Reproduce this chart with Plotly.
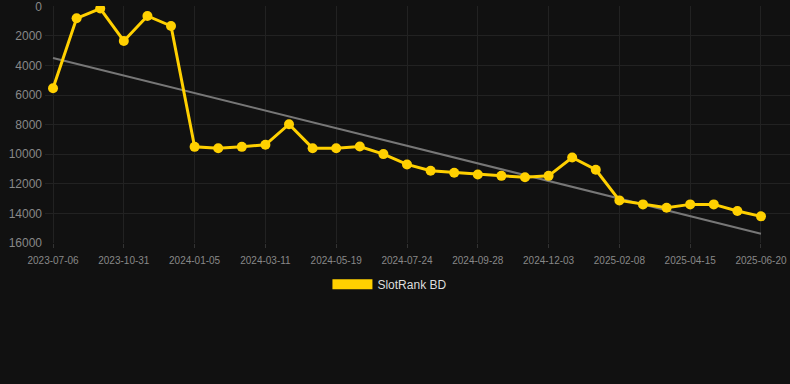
import plotly.graph_objects as go

dates = [
    "2023-07-06", "2023-08-14", "2023-09-22", "2023-10-31", "2023-11-22", "2023-12-14",
    "2024-01-05", "2024-01-27", "2024-02-18", "2024-03-11", "2024-04-03", "2024-04-26",
    "2024-05-19", "2024-06-10", "2024-07-02", "2024-07-24", "2024-08-15", "2024-09-06",
    "2024-09-28", "2024-10-20", "2024-11-11", "2024-12-03", "2024-12-25", "2025-01-17",
    "2025-02-08", "2025-03-02", "2025-03-24", "2025-04-15", "2025-05-07", "2025-05-29",
    "2025-06-20",
]
rank = [
    5540, 810, 150, 2340, 655, 1330,
    9500, 9590, 9500, 9360, 7970, 9590,
    9590, 9480, 9990, 10690, 11120, 11250,
    11370, 11460, 11550, 11460, 10220, 11050,
    13120, 13390, 13620, 13390, 13390, 13840,
    14200,
]
tick_dates = dates[::3]
y_ticks = [0, 2000, 4000, 6000, 8000, 10000, 12000, 14000, 16000]
trend_x = [dates[0], dates[-1]]
trend_y = [3490, 15370]
series_name = "SlotRank BD"

GOLD = "#FFD000"

fig = go.Figure()
fig.add_trace(go.Scatter(
    x=trend_x, y=trend_y, mode="lines",
    line=dict(color="#777777", width=2),
    showlegend=False, hoverinfo="skip",
))
fig.add_trace(go.Scatter(
    x=dates, y=rank, mode="lines+markers",
    line=dict(color=GOLD, width=3),
    marker=dict(color=GOLD, size=10),
    showlegend=False, name=series_name,
))
# legend entry
fig.add_trace(go.Scatter(
    x=[None], y=[None], mode="lines",
    line=dict(color=GOLD, width=12),
    name=series_name, showlegend=True,
))

fig.update_layout(
    width=790, height=384,
    paper_bgcolor="#111111", plot_bgcolor="#111111",
    margin=dict(l=45, r=0, t=6, b=141),
    font=dict(family="Liberation Sans, Arial, sans-serif", color="#888888"),
    showlegend=True,
    legend=dict(
        orientation="h", x=0.463, xanchor="center",
        y=-0.113, yanchor="top",
        font=dict(size=12, color="#dddddd"), itemwidth=40,
    ),
)
fig.update_xaxes(
    type="category", categoryorder="array", categoryarray=dates,
    range=[-0.34, 31.23], automargin=False,
    tickmode="array", tickvals=tick_dates, ticktext=tick_dates,
    tickfont=dict(size=10, color="#888888"), tickangle=0,
    ticklabeloverflow="allow", ticklabelstandoff=4,
    showgrid=True, gridcolor="#222222", gridwidth=1,
    zeroline=False, showline=False,
    ticks="outside", ticklen=4, tickcolor="#333333",
)
fig.update_yaxes(
    range=[16000, -20], automargin=False,
    tickmode="array", tickvals=y_ticks, ticktext=[str(v) for v in y_ticks],
    tickfont=dict(size=12, color="#888888"),
    ticklabeloverflow="allow",
    showgrid=True, gridcolor="#222222", gridwidth=1,
    zeroline=False, showline=False,
    ticks="", ticklabelstandoff=2,
)

fig.write_html(
    "out.html",
    config={"displayModeBar": False},
    post_script="document.body.style.margin='0';",
)
